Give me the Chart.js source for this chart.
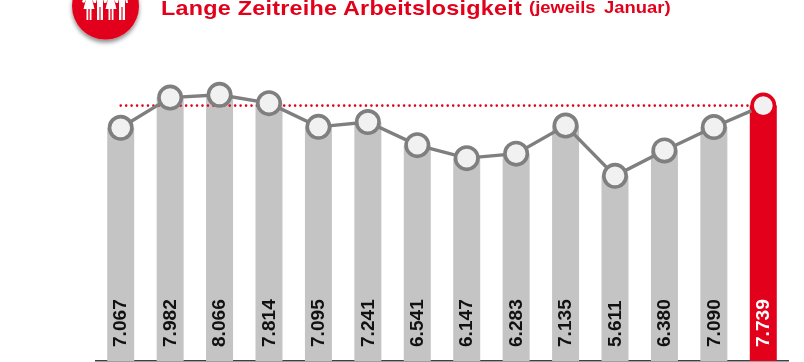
<!DOCTYPE html>
<html lang="de">
<head>
<meta charset="utf-8">
<title>Lange Zeitreihe Arbeitslosigkeit</title>
<script src="https://cdn.jsdelivr.net/npm/chart.js@4/dist/chart.umd.min.js"></script>
<style>
html,body{margin:0;padding:0;background:#fff;overflow:hidden}
#wrap{position:relative;width:804px;height:362px;font-family:"Liberation Sans",Arial,sans-serif}
canvas{position:absolute;left:0;top:0}
.t{position:absolute;color:#e2001a;font-weight:bold;white-space:nowrap;line-height:1;transform-origin:0 0}
#t1{left:161px;top:-2px;font-size:20.5px;letter-spacing:.2px;transform:scaleX(1.14)}
#t2{left:529px;top:0;font-size:16px;word-spacing:3px;transform:scaleX(1.15)}
#icon{position:absolute;left:60px;top:-30px}
</style>
</head>
<body>
<div id="wrap">
<canvas id="c" width="804" height="362"></canvas>
<svg id="icon" width="92" height="84" viewBox="0 0 92 84" aria-hidden="true">
<defs><filter id="s" x="-20%" y="-20%" width="140%" height="140%"><feDropShadow dx="0" dy="3" stdDeviation="2.2" flood-color="#000" flood-opacity=".45"/></filter>
<g id="w" fill="#fff"><path d="M-2.5 -10H2.5L7 2 4.8 3 3 -1 5.5 9H2.5V20H.7V9H-.7V20H-2.5V9H-5.5L-3 -1-4.8 3-7 2Z"/></g>
<g id="m" fill="#fff"><path d="M-4 -10H4L6 3H4L3 -2V20H.6V7H-.6V20H-3V-2L-4 3H-6Z"/></g></defs>
<circle cx="45.5" cy="36" r="33.5" fill="#e2001a" filter="url(#s)"/>
<use href="#w" x="29" y="30"/><use href="#m" x="40" y="30"/><use href="#w" x="51" y="30"/><use href="#m" x="62" y="30"/>
</svg>
<div class="t" id="t1">Lange Zeitreihe Arbeitslosigkeit</div>
<div class="t" id="t2">(jeweils Januar)</div>
</div>
<script>
const categories = ["1","2","3","4","5","6","7","8","9","10","11","12","13","14"];
const values = [7067,7982,8066,7814,7095,7241,6541,6147,6283,7135,5611,6380,7090,7739];
const valueLabels = ["7.067","7.982","8.066","7.814","7.095","7.241","6.541","6.147","6.283","7.135","5.611","6.380","7.090","7.739"];
const reference = [7739,7739,7739,7739,7739,7739,7739,7739,7739,7739,7739,7739,7739,7739];

const RED = "#e2001a", GREY = "#c4c4c4", LINE = "#7f7f7f", FILL = "#f1f1f1";
const last = values.length - 1;

const barLabels = {
  id: "barLabels",
  afterDatasetsDraw(chart) {
    const ctx = chart.ctx;
    const bars = chart.getDatasetMeta(0).data;
    ctx.save();
    ctx.font = 'bold 18px "Liberation Sans", Arial, sans-serif';
    ctx.textAlign = "left";
    ctx.textBaseline = "middle";
    bars.forEach((bar, i) => {
      ctx.save();
      ctx.translate(bar.x + 0.8, 347);
      ctx.rotate(-Math.PI / 2);
      ctx.scale(1.06, 1);
      ctx.fillStyle = i === last ? "#ffffff" : "#111111";
      ctx.fillText(valueLabels[i], 0, 0);
      ctx.restore();
    });
    ctx.restore();
  }
};

new Chart(document.getElementById("c"), {
  type: "bar",
  data: {
    labels: categories,
    datasets: [
      {
        type: "bar", order: 3, data: values,
        backgroundColor: values.map((v, i) => i === last ? RED : GREY),
        barPercentage: 27 / 49.43, categoryPercentage: 1, borderWidth: 0
      },
      {
        type: "line", order: 2, data: reference,
        borderColor: RED, borderWidth: 2.6, borderDash: [0, 5.45], borderCapStyle: "round",
        pointRadius: 0, fill: false, tension: 0
      },
      {
        type: "line", order: 1, data: values,
        borderColor: LINE, borderWidth: 3.4, tension: 0, fill: false,
        pointRadius: 11.2, pointBorderWidth: 3.6,
        pointBackgroundColor: FILL,
        pointBorderColor: values.map((v, i) => i === last ? RED : LINE)
      }
    ]
  },
  options: {
    responsive: false, animation: false, events: [],
    layout: { autoPadding: false, padding: { left: 96, right: 16, top: 31, bottom: 0 } },
    plugins: { legend: { display: false }, title: { display: false }, tooltip: { enabled: false } },
    scales: {
      x: {
        display: true, offset: true,
        grid: { display: false, drawTicks: false },
        border: { display: true, color: "#404040", width: 1.5 },
        ticks: { display: false },
        afterFit(scale) { scale.height = 1; }
      },
      y: { display: false, min: 0, max: 10000 }
    }
  },
  plugins: [barLabels]
});
</script>
</body>
</html>
